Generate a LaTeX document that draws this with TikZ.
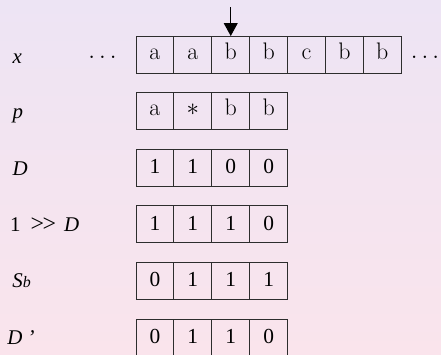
\documentclass[tikz,border=0pt]{standalone}
\usepackage{fontspec}
\newfontfamily\tms{Liberation Serif}
\usetikzlibrary{arrows.meta}
\definecolor{bgtop}{RGB}{237,228,244}
\definecolor{bgbot}{RGB}{250,228,236}
\definecolor{edgec}{RGB}{45,45,45}
\tikzset{
  cellbox/.style={draw=edgec, line width=0.9bp, minimum width=37.9bp, minimum height=37bp,
    inner sep=0pt, outer sep=0pt},
  letcell/.style={cellbox, font=\fontsize{24}{26}\selectfont, text height=12bp, text depth=2.4bp},
  digcell/.style={cellbox, font=\tms\fontsize{21.5}{23}\selectfont, text height=14bp, text depth=2bp},
  rowlabel/.style={anchor=base west, inner sep=0pt, font=\tms\itshape\fontsize{21}{22}\selectfont},
  dotsnode/.style={anchor=base, inner sep=0pt, font=\fontsize{23}{24}\selectfont},
  pointer/.style={draw=black, line width=1bp, -{Triangle[width=14bp,length=13bp]}}
}
\begin{document}
\begin{tikzpicture}[x=1bp,y=-1bp]
\clip (0,0) rectangle (441,354);
\shade[top color=bgtop, bottom color=bgbot] (0,0) rectangle (441,354);
% row x
\foreach \t [count=\i] in {a,a,b,b,c,b,b}
  \node[letcell] (x\i) at ({136+37.9*(\i-0.5)}, 54.5) {\t};
% row p
\foreach \t [count=\i] in {a,$*$,b,b}
  \node[letcell] (p\i) at ({136+37.9*(\i-0.5)}, 111.1) {\t};
% digit rows
\foreach \t [count=\i] in {1,1,0,0}
  \node[digcell] (d\i) at ({136+37.9*(\i-0.5)}, 167.7) {\t};
\foreach \t [count=\i] in {1,1,1,0}
  \node[digcell] (s\i) at ({136+37.9*(\i-0.5)}, 224.3) {\t};
\foreach \t [count=\i] in {0,1,1,1}
  \node[digcell] (b\i) at ({136+37.9*(\i-0.5)}, 280.9) {\t};
\foreach \t [count=\i] in {0,1,1,0}
  \node[digcell] (e\i) at ({136+37.9*(\i-0.5)}, 337.5) {\t};
% dots
\node[dotsnode] (ldots) at (102.5,58.6) {$\ldots$};
\node[dotsnode] (rdots) at (425,58.6) {$\ldots$};
% labels
\node[rowlabel] (lx) at (12.5,63.5) {x};
\node[rowlabel] (lp) at (12.5,118) {p};
\node[rowlabel] (ld) at (12.5,175) {D};
\node[rowlabel, font=\tms\fontsize{21}{22}\selectfont] (ls) at (10,231)
  {1\kern10bp{\fontsize{24}{24}\selectfont>\kern-1.5bp>}\kern8bp\textit{D}};
\node[rowlabel] (lb) at (12.3,287.7) {S{\fontsize{16}{18}\selectfont b}};
\node[rowlabel] (le) at (7.3,344.3) {D\kern5bp’};
% pointer
\coordinate (ptop) at (x3.north |- 0,7);
\draw[pointer] (ptop) -- (x3.north);
\end{tikzpicture}
\end{document}
